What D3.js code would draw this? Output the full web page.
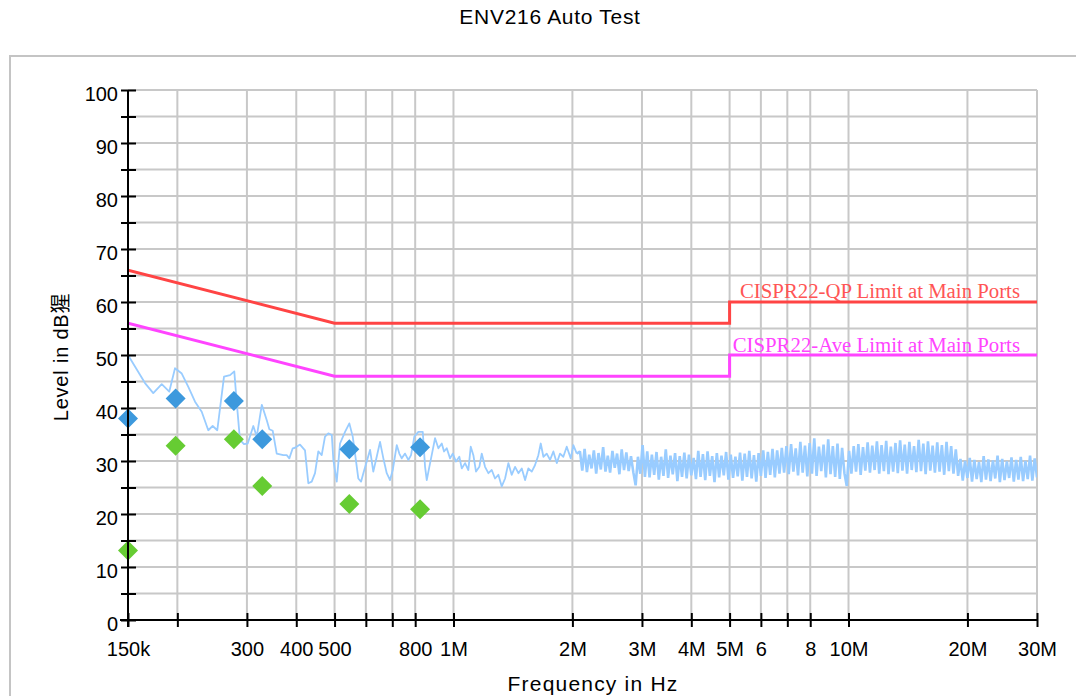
<!DOCTYPE html>
<html><head><meta charset="utf-8">
<script src="https://cdn.jsdelivr.net/npm/d3@7"></script>
<style>
html,body{margin:0;padding:0;background:#fff;}
svg{display:block;}
</style></head><body>
<svg id="chart" width="1076" height="696"></svg>
<script>
// ---------- data ----------
const titleText = "ENV216 Auto Test";
const xLabelText = "Frequency in Hz";
const yLabelText = "Level in dB猩";

const xTickFreqsKHz = [150,200,300,400,500,600,700,800,1000,2000,3000,4000,5000,6000,7000,8000,10000,20000,30000];
const xTickLabels   = ["150k","","300","400","500","","","800","1M","2M","3M","4M","5M","6","","8","10M","20M","30M"];
const yTickValues = [0,5,10,15,20,25,30,35,40,45,50,55,60,65,70,75,80,85,90,95,100];
const yTickLabels = ["0","","10","","20","","30","","40","","50","","60","","70","","80","","90","","100"];

const qpLimitName = "CISPR22-QP Limit at Main Ports";
const qpLimitFreqsKHz = [150,500,5000,5000,30000];
const qpLimitLevels   = [66,56,56,60,60];
const aveLimitName = "CISPR22-Ave Limit at Main Ports";
const aveLimitFreqsKHz = [150,500,5000,5000,30000];
const aveLimitLevels   = [56,46,46,50,50];

const markerFreqsKHz  = [150,198,278,328,545,823];
const qpMarkerLevels  = [38.0,41.8,41.3,34.1,32.2,32.6];
const aveMarkerLevels = [13.1,32.9,34.1,25.3,21.9,20.9];

const traceFreqsKHz = [150,165.6,173.8,182.6,190.8,197.3,205.2,213.2,221.7,230.5,
239.5,245.7,252.4,262.5,271.9,278.7,282.6,288.1,294.9,301.4,
311.4,317.7,327.2,336.8,341.9,348.7,356.9,370.9,378.3,384.1,
391.8,397.1,408.8,420.9,429.1,437.7,446.2,454.8,463.9,472.9,
482.2,492,496.5,506.4,516.2,531.5,545,555.9,563.4,574.2,
583.5,591.3,603.2,615,626.7,639.3,651.8,664.5,677.7,690.9,
701.9,718.5,729.3,739.7,754,768.6,780.9,796,814.8,836.1,
847.4,855.8,868.8,886.2,898.2,915.7,934,946.5,961.5,980.3,
995.6,1015,1034.7,1049.4,1069.8,1090.5,1105.9,1122.9,1140.5,1162.8,
1179,1202,1225.5,1250,1274,1299,1325,1351,1377,1404,
1432,1460,1489,1518,1547,1578,1608,1640,1663,1689,
1722,1756,1790,1826,1861,1897,1935,1981,2011,2052];
const traceLevels = [50.0,44.7,42.8,44.5,43.1,47.5,46.5,44.0,41.2,39.3,
35.8,36.6,35.8,45.9,46.2,46.9,41.2,34.0,33.2,33.3,
36.6,34.6,40.6,37.7,36.0,35.7,31.4,31.1,31.1,30.5,
32.4,32.5,33.1,32.0,25.8,26.1,27.7,31.8,31.1,34.6,
35.2,34.9,30.2,26.1,33.3,35.5,37.1,34.6,31.4,26.7,
26.1,27.7,29.9,32.1,28.0,30.8,33.6,30.5,27.7,26.4,
28.3,33.0,31.4,30.5,31.4,30.2,31.1,34.6,35.5,35.5,
28.9,26.4,28.9,32.1,34.3,32.4,33.3,31.8,32.4,30.5,
31.4,29.9,30.8,28.6,29.6,28.3,32.7,31.1,28.0,28.9,
31.4,28.9,27.7,28.3,26.7,27.4,25.2,26.7,29.6,27.4,
28.9,27.7,28.6,26.4,28.6,28.0,29.2,31.1,33.3,30.8,
31.4,30.2,31.8,29.6,31.4,30.8,32.7,30.5,33.0,31.4];

// dense sweep part: levels read at log-spaced sweep points between start and stop
const sweepStartKHz = 2090;
const sweepStopKHz = 30000;
const sweepLevels = [
31.8,28.2,32.3,27.9,31.2,28.6,32.0,27.6,31.5,28.4,
32.6,28.0,31.0,27.8,31.9,28.7,31.4,27.5,32.2,28.3,
31.6,28.1,30.9,27.9,25.4,30.8,27.6,33.0,27.0,31.8,
26.9,31.2,27.4,31.7,26.5,30.8,27.2,32.2,26.8,31.0,
27.5,31.5,26.2,30.9,27.0,31.6,26.7,31.2,27.3,30.6,
26.6,31.9,27.0,31.3,26.4,31.8,27.2,30.9,26.0,31.5,
26.9,31.0,27.3,31.7,26.5,31.2,26.8,30.8,27.1,31.6,
26.3,31.4,27.0,31.9,26.7,31.1,26.1,31.5,27.2,32.0,
26.8,31.7,27.4,32.3,26.9,32.0,27.6,32.5,27.8,32.8,
27.5,33.2,28.0,32.4,27.3,33.6,27.8,32.9,27.1,33.4,
27.6,34.3,27.2,32.7,28.1,33.1,26.9,34.1,27.5,32.8,
27.0,33.3,26.6,32.5,27.7,25.3,31.9,27.6,32.8,28.0,
33.2,27.4,32.6,28.2,33.5,27.8,32.9,28.3,33.7,27.6,
33.0,28.1,33.8,27.5,32.7,28.0,33.4,27.7,33.9,28.2,
33.1,27.6,33.6,28.3,32.8,27.9,34.0,28.1,33.3,27.5,
33.7,28.2,32.9,27.8,33.5,28.0,33.0,27.4,33.6,28.1,
32.8,27.6,32.2,27.2,30.4,26.3,30.0,26.8,30.6,26.1,
30.2,26.6,29.8,26.0,30.9,26.5,30.3,26.2,30.1,26.7,
31.0,26.0,30.4,26.4,29.9,26.8,30.7,26.1,30.2,26.5,
30.8,26.2,30.0,26.6,31.0,26.3,30.5,26.9];

// ---------- drawing ----------
const svg = d3.select("#chart");
const sansFont = "'Liberation Sans', Arial, Helvetica, 'Noto Sans CJK TC', sans-serif";
const serifFont = "'Liberation Serif', 'Times New Roman', serif";

const x = d3.scaleLog().domain([150, 30000]).range([128, 1037]);
const y = d3.scaleLinear().domain([0, 100]).range([620, 90]);

// outer frame
svg.append("rect").attr("x", 10).attr("y", 56).attr("width", 1100).attr("height", 700)
  .attr("fill", "none").attr("stroke", "#c4c4c4").attr("stroke-width", 2);

// title
svg.append("text").attr("x", 550).attr("y", 24).attr("text-anchor", "middle")
  .attr("font-family", sansFont).attr("font-size", 21).attr("letter-spacing", 0.7)
  .attr("fill", "#000").text(titleText);

// grid
const grid = svg.append("g");
grid.selectAll("line.v").data(xTickFreqsKHz).join("line")
  .attr("x1", d => x(d)).attr("x2", d => x(d)).attr("y1", y(0)).attr("y2", y(100))
  .attr("stroke", "#c8c8c8").attr("stroke-width", 2);
grid.selectAll("line.h").data(yTickValues).join("line")
  .attr("class","h")
  .attr("x1", x(150)).attr("x2", x(30000)).attr("y1", d => y(d)).attr("y2", d => y(d))
  .attr("stroke", "#c8c8c8").attr("stroke-width", 2);

// plot clip
svg.append("clipPath").attr("id", "plotclip").append("rect")
  .attr("x", x(150)).attr("y", y(100)).attr("width", x(30000) - x(150)).attr("height", y(0) - y(100));

// trace data
const sweepLog = d3.scaleLinear().domain([0, sweepLevels.length - 1])
  .range([Math.log10(sweepStartKHz), Math.log10(sweepStopKHz)]);
const tracePts = traceFreqsKHz.map((f, i) => [f, traceLevels[i]]);
const sweepPts = [tracePts[tracePts.length - 1]]
  .concat(sweepLevels.map((v, i) => [Math.pow(10, sweepLog(i)), v]));

const line = d3.line().x(d => x(d[0])).y(d => y(d[1]));

const plot = svg.append("g").attr("clip-path", "url(#plotclip)");
plot.append("path").datum(tracePts).attr("d", line)
  .attr("fill", "none").attr("stroke", "#99ccff").attr("stroke-width", 1.8).attr("stroke-linejoin", "round");
plot.append("path").datum(sweepPts).attr("d", line)
  .attr("fill", "none").attr("stroke", "#99ccff").attr("stroke-width", 2.6).attr("stroke-linejoin", "bevel");

// limit lines
plot.append("path").datum(qpLimitFreqsKHz.map((f, i) => [f, qpLimitLevels[i]])).attr("d", line)
  .attr("fill", "none").attr("stroke", "#ff4444").attr("stroke-width", 3);
plot.append("path").datum(aveLimitFreqsKHz.map((f, i) => [f, aveLimitLevels[i]])).attr("d", line)
  .attr("fill", "none").attr("stroke", "#ff44ff").attr("stroke-width", 3);

// limit labels
svg.append("text").attr("x", 1020).attr("y", y(60) - 4).attr("text-anchor", "end")
  .attr("font-family", serifFont).attr("font-size", 20.8).attr("fill", "#ff5555").text(qpLimitName);
svg.append("text").attr("x", 1020).attr("y", y(50) - 3).attr("text-anchor", "end")
  .attr("font-family", serifFont).attr("font-size", 20.8).attr("fill", "#ff44ff").text(aveLimitName);

// markers
const diamond = "M0,-10L10,0L0,10L-10,0Z";
svg.append("g").selectAll("path").data(markerFreqsKHz.map((f, i) => [f, aveMarkerLevels[i]])).join("path")
  .attr("d", diamond).attr("transform", d => `translate(${x(d[0])},${y(d[1])})`).attr("fill", "#66cc33");
svg.append("g").selectAll("path").data(markerFreqsKHz.map((f, i) => [f, qpMarkerLevels[i]])).join("path")
  .attr("d", diamond).attr("transform", d => `translate(${x(d[0])},${y(d[1])})`).attr("fill", "#3d99dd");

// axes
const xAxis = d3.axisBottom(x).tickValues(xTickFreqsKHz)
  .tickFormat((d, i) => xTickLabels[i]).tickSize(7).tickPadding(15);
const gx = svg.append("g").attr("transform", `translate(0,${y(0)})`).call(xAxis);
gx.select(".domain").remove();
gx.append("line").attr("x1", x(150) - 8).attr("x2", x(30000)).attr("y1", 0).attr("y2", 0)
  .attr("stroke", "#000").attr("stroke-width", 2);
gx.selectAll(".tick line").attr("y1", -7).attr("y2", 7).attr("stroke", "#000").attr("stroke-width", 2);
gx.selectAll(".tick text").attr("font-family", sansFont).attr("font-size", 20).attr("fill", "#000");

const yAxis = d3.axisLeft(y).tickValues(yTickValues)
  .tickFormat((d, i) => yTickLabels[i]).tickSize(7).tickPadding(3);
const gy = svg.append("g").attr("transform", `translate(${x(150)},0)`).call(yAxis);
gy.select(".domain").remove();
gy.append("line").attr("x1", 0).attr("x2", 0).attr("y1", y(100)).attr("y2", y(0) + 7)
  .attr("stroke", "#000").attr("stroke-width", 2);
gy.selectAll(".tick line").attr("x1", -7).attr("x2", 8).attr("stroke", "#000").attr("stroke-width", 2);
gy.selectAll(".tick text").attr("x", -10).attr("dy", "0.5em")
  .attr("font-family", sansFont).attr("font-size", 20).attr("fill", "#000");

// axis titles
svg.append("text").attr("x", 593).attr("y", 691).attr("text-anchor", "middle")
  .attr("font-family", sansFont).attr("font-size", 21).attr("letter-spacing", 1.2)
  .attr("fill", "#000").text(xLabelText);
svg.append("text").attr("transform", "translate(68,357) rotate(-90)").attr("text-anchor", "middle")
  .attr("font-family", sansFont).attr("font-size", 20).attr("letter-spacing", 0.8)
  .attr("fill", "#000").text(yLabelText);
</script>
</body></html>
